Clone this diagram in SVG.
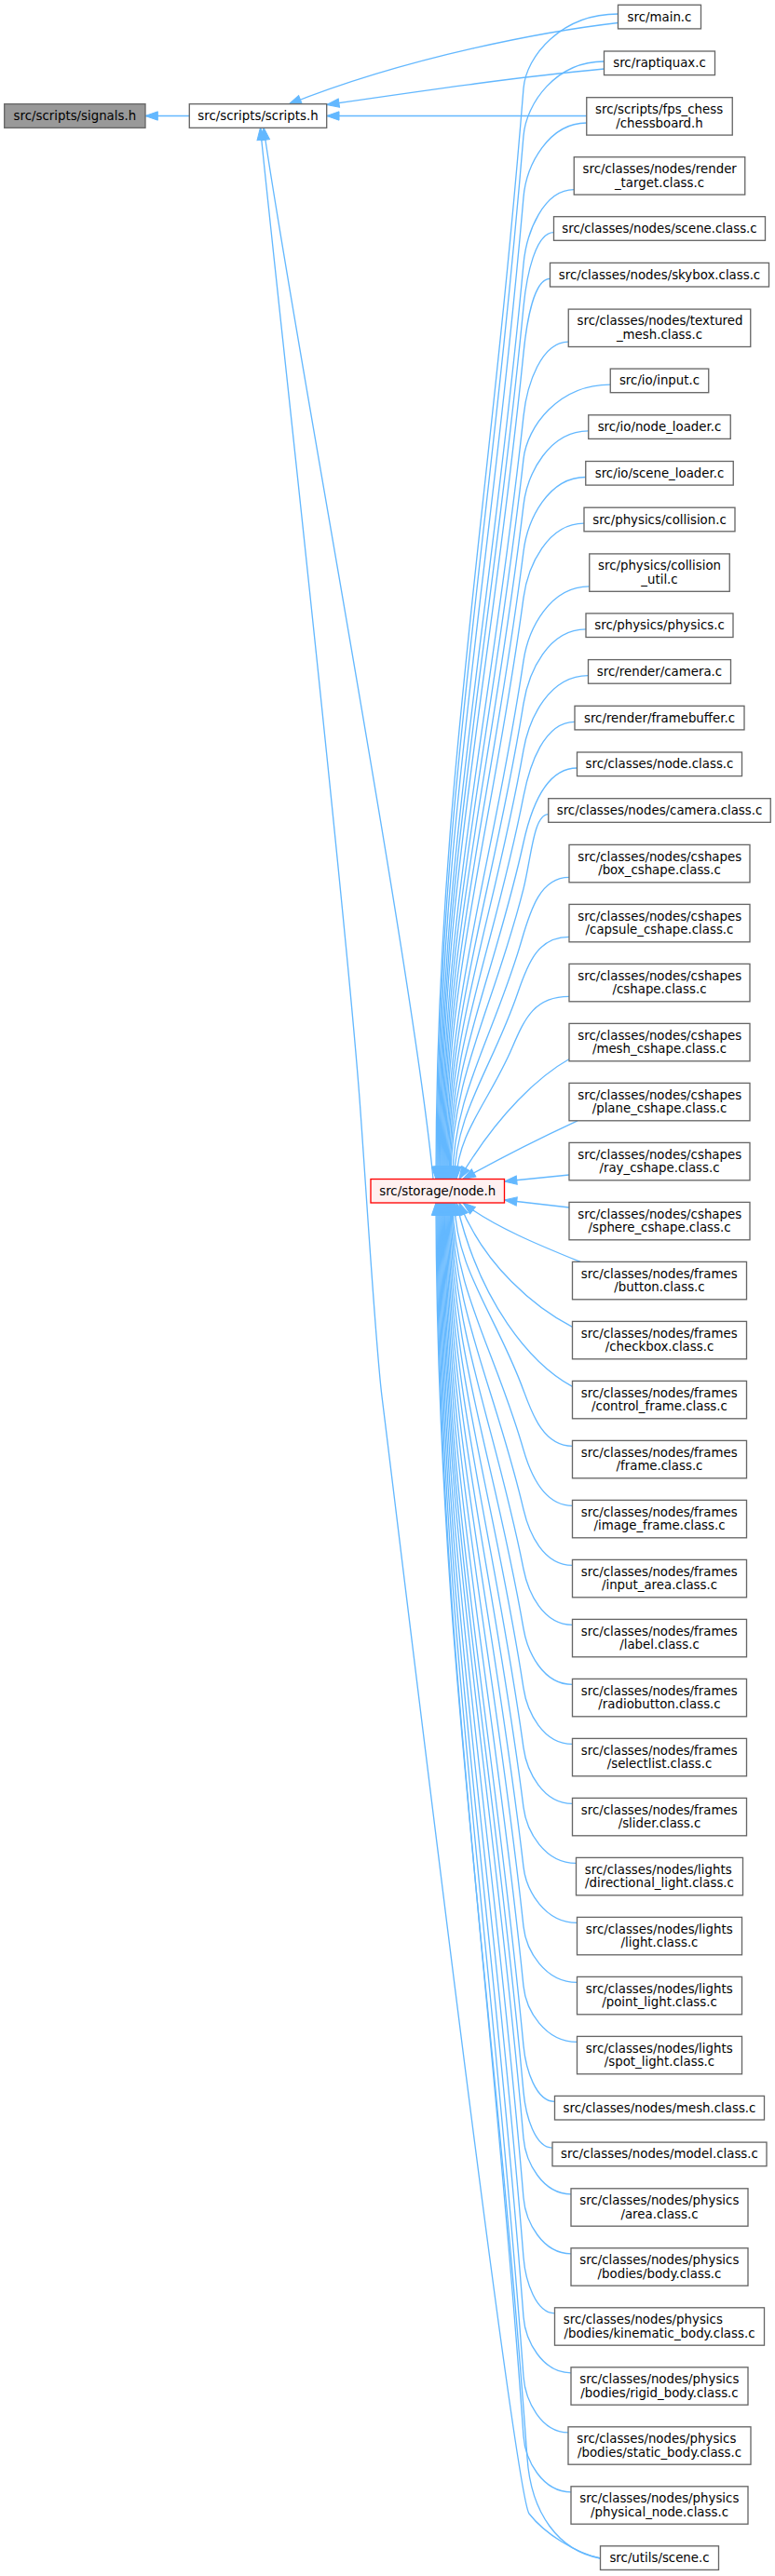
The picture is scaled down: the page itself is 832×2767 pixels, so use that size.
<svg xmlns="http://www.w3.org/2000/svg" width="832" height="2767" viewBox="0 0 832 2767">
<style>
rect{fill:#ffffff;stroke:#666666;stroke-width:1.33}
text{font-family:"DejaVu Sans","Liberation Sans",sans-serif;font-size:13.33px;fill:#000000}
.c{text-anchor:middle}
.s{text-anchor:start}
.e{fill:none;stroke:#63b8ff;stroke-width:1.33;marker-end:url(#ah)}
</style>
<defs>
<marker id="ah" viewBox="0 -5 14 10" refX="13.33" refY="0" markerWidth="14" markerHeight="10" markerUnits="userSpaceOnUse" orient="auto" overflow="visible">
<path d="M0,-4.67 L13.33,0 L0,4.67 Z" fill="#63b8ff" stroke="#63b8ff" stroke-width="1"/>
</marker>
</defs>
<rect x="0" y="0" width="832" height="2767" style="fill:#ffffff;stroke:none"/>
<g id="edges">
<path class="e" d="M203.3,124.5 L156,124.5"/>
<path class="e" d="M663.5,24.5 C590,33 440,60 310,112"/>
<path class="e" d="M648.5,74 C560,82 450,98 350.7,112.5"/>
<path class="e" d="M629.75,124.5 L350.7,124.5"/>
<path class="e" d="M465,1266.5 C445,1050 310,330 283,137"/>
<path class="e" d="M644.5,2748 C618,2742 585,2722 568,2700 C552,2678 430,1660 410,1500 C403,1444 392,1260 386,1180 C368,940 288,230 279.5,137"/>
<path class="e" d="M663.5,15 C602.6,15 564.8,60.1 562,95 C524.4,563.6 468,856.5 468,1266.5"/>
<path class="e" d="M648.5,66 C596.6,66 564.9,111.1 562,146 C524.8,594.2 469,874.3 469,1266.5"/>
<path class="e" d="M629.75,132 C589.1,132 565,177.1 562,212 C525.2,633.8 470,897.4 470,1266.5"/>
<path class="e" d="M616.25,203.7 C583.7,203.7 565.2,248.8 562,283.7 C525.6,676.8 471,922.5 471,1266.5"/>
<path class="e" d="M594.5,249.7 C575,249.7 565.4,294.9 562,329.7 C526,704.4 472,938.6 472,1266.5"/>
<path class="e" d="M590.5,299.4 C573.4,299.4 565.5,344.6 562,379.4 C526.4,734.2 473,956 473,1266.5"/>
<path class="e" d="M610.25,367.1 C581.3,367.1 565.7,412.3 562,447.1 C526.8,774.9 474,979.7 474,1266.5"/>
<path class="e" d="M655.25,413.1 C599.3,413.1 565.9,458.3 562,493.1 C527.2,802.5 475,995.8 475,1266.5"/>
<path class="e" d="M631.75,462.8 C589.9,462.8 566.1,508 562,542.8 C527.6,832.3 476,1013.2 476,1266.5"/>
<path class="e" d="M628.75,512.5 C588.7,512.5 566.4,557.8 562,592.5 C528,862.1 477,1030.6 477,1266.5"/>
<path class="e" d="M627,562.2 C588,562.2 566.7,607.5 562,642.2 C528.4,891.9 478,1048 478,1266.5"/>
<path class="e" d="M632.75,629.9 C590.3,629.9 567.2,675.3 562,709.9 C528.8,932.5 479,1071.7 479,1266.5"/>
<path class="e" d="M629,675.9 C588.8,675.9 567.6,721.3 562,755.9 C529.2,960.1 480,1087.8 480,1266.5"/>
<path class="e" d="M631.5,725.6 C589.8,725.6 568.1,771.1 562,805.6 C529.6,990 481,1105.2 481,1266.5"/>
<path class="e" d="M617,775.3 C584.2,775.3 568.7,821 562,855.3 C530,1019.8 482,1122.6 482,1266.5"/>
<path class="e" d="M619.5,825 C585,825 569.5,870.8 562,905 C530.4,1049.6 483,1140 483,1266.5"/>
<path class="e" d="M588.75,874.7 C572.7,874.7 570.5,920.7 562,954.7 C530.8,1079.4 484,1157.4 484,1266.5"/>
<path class="e" d="M611,942.4 C580.4,942.4 569.7,976.4 560,1010 C530.4,1112.6 486,1176.7 486,1266.5"/>
<path class="e" d="M611,1006.4 C578,1006.4 567.2,1032.9 556,1066 C528.8,1146.2 488,1196.3 488,1266.5"/>
<path class="e" d="M611,1070.4 C574.4,1070.4 563.7,1092.8 550,1125 C526,1181.6 491,1217 490,1266.5"/>
<path class="e" d="M612,1137 C580,1155 535,1195 493,1266.5"/>
<path class="e" d="M620,1203.8 C585,1220 535,1245 497,1266.5"/>
<path class="e" d="M611,1262 L541.5,1269"/>
<path class="e" d="M611,1297 L541.5,1289"/>
<path class="e" d="M623,1355.4 C585,1340 530,1318 497,1292"/>
<path class="e" d="M614.5,1425.4 C575,1405 520,1360 493,1292"/>
<path class="e" d="M614.5,1489.4 C570,1465 515,1400 490,1292"/>
<path class="e" d="M614.5,1553.4 C583,1553.4 571,1517.8 562,1493.4 C532.4,1412.8 489,1362.5 488,1292"/>
<path class="e" d="M614.5,1617.4 C583,1617.4 569.2,1582.4 562,1557.4 C531.6,1451.2 487,1384.9 486,1292"/>
<path class="e" d="M614.5,1681.4 C583,1681.4 567.9,1646.7 562,1621.4 C531.2,1489.6 486,1407.3 485,1292"/>
<path class="e" d="M614.5,1745.4 C583,1745.4 567,1710.9 562,1685.4 C530.8,1528 485,1429.7 484,1292"/>
<path class="e" d="M614.5,1809.4 C583,1809.4 566.4,1775 562,1749.4 C530.4,1566.4 484,1452.1 483,1292"/>
<path class="e" d="M614.5,1873.4 C583,1873.4 565.9,1839.1 562,1813.4 C530,1604.8 483,1474.5 482,1292"/>
<path class="e" d="M614.5,1937.4 C583,1937.4 565.6,1903.2 562,1877.4 C529.6,1643.2 482,1496.9 481,1292"/>
<path class="e" d="M618.5,2001.4 C584.6,2001.4 565.3,1967.2 562,1941.4 C529.2,1681.6 481,1519.3 480,1292"/>
<path class="e" d="M619.5,2065.4 C585,2065.4 565,2031.2 562,2005.4 C528.8,1720 480,1541.7 479,1292"/>
<path class="e" d="M619.5,2129.4 C585,2129.4 564.8,2095.3 562,2069.4 C528.4,1758.4 479,1564.1 478,1292"/>
<path class="e" d="M619.5,2193.4 C585,2193.4 564.6,2159.3 562,2133.4 C528,1796.8 478,1586.5 477,1292"/>
<path class="e" d="M595.5,2257.4 C575.4,2257.4 564.5,2223.3 562,2197.4 C527.6,1835.2 477,1608.9 476,1292"/>
<path class="e" d="M593,2307.1 C574.4,2307.1 564.4,2273 562,2247.1 C527.2,1865 476,1626.3 475,1292"/>
<path class="e" d="M613,2356.8 C582.4,2356.8 564.3,2322.7 562,2296.8 C526.8,1894.9 475,1643.7 474,1292"/>
<path class="e" d="M613,2420.8 C582.4,2420.8 564.2,2386.7 562,2360.8 C526.4,1933.3 474,1666.1 473,1292"/>
<path class="e" d="M595.5,2484.8 C575.4,2484.8 564.1,2450.7 562,2424.8 C526,1971.7 473,1688.5 472,1292"/>
<path class="e" d="M613,2548.8 C582.4,2548.8 564,2514.7 562,2488.8 C525.6,2010.1 472,1710.9 471,1292"/>
<path class="e" d="M610,2612.8 C581,2612.8 563.9,2578.7 562,2552.8 C525.2,2048.5 471,1733.3 470,1292"/>
<path class="e" d="M613,2676.8 C582.4,2676.8 563.8,2642.7 562,2616.8 C524.8,2086.9 470,1755.7 469,1292"/>
<path class="e" d="M644.5,2748 C600,2740 570,2700 566,2640 C526.8,2100.8 469,1763.8 468,1292"/>
</g>
<g id="node-signals"><rect x="4.7" y="111.7" width="151.3" height="25.6" style="fill:#999999"/><text class="c" x="80.35" y="129">src/scripts/signals.h</text></g>
<g id="node-scripts"><rect x="203.3" y="111.7" width="147.4" height="25.6"/><text class="c" x="277" y="129">src/scripts/scripts.h</text></g>
<g id="node-nodeh"><rect x="398" y="1266.5" width="143.5" height="25.5" style="fill:#fff0f0;stroke:#ff0000"/><text class="c" x="469.75" y="1283.8">src/storage/node.h</text></g>
<g id="node-main"><rect x="663.5" y="5.3" width="89" height="25.6"/><text class="c" x="708" y="22.6">src/main.c</text></g>
<g id="node-raptiquax"><rect x="648.5" y="55" width="119" height="25.6"/><text class="c" x="708" y="72.3">src/raptiquax.c</text></g>
<g id="node-chessboard"><rect x="629.75" y="104.7" width="156.5" height="40.4"/><text class="s" x="639" y="122">src/scripts/fps_chess</text><text class="c" x="708" y="136.5">/chessboard.h</text></g>
<g id="node-render-target"><rect x="616.25" y="168.7" width="183.5" height="40.4"/><text class="s" x="625.5" y="186">src/classes/nodes/render</text><text class="c" x="708" y="200.5">_target.class.c</text></g>
<g id="node-scene-class"><rect x="594.5" y="232.7" width="227" height="25.6"/><text class="c" x="708" y="250">src/classes/nodes/scene.class.c</text></g>
<g id="node-skybox"><rect x="590.5" y="282.4" width="235" height="25.6"/><text class="c" x="708" y="299.7">src/classes/nodes/skybox.class.c</text></g>
<g id="node-textured"><rect x="610.25" y="332.1" width="195.5" height="40.4"/><text class="s" x="619.5" y="349.4">src/classes/nodes/textured</text><text class="c" x="708" y="363.9">_mesh.class.c</text></g>
<g id="node-input"><rect x="655.25" y="396.1" width="105.5" height="25.6"/><text class="c" x="708" y="413.4">src/io/input.c</text></g>
<g id="node-node-loader"><rect x="631.75" y="445.8" width="152.5" height="25.6"/><text class="c" x="708" y="463.1">src/io/node_loader.c</text></g>
<g id="node-scene-loader"><rect x="628.75" y="495.5" width="158.5" height="25.6"/><text class="c" x="708" y="512.8">src/io/scene_loader.c</text></g>
<g id="node-collision"><rect x="627" y="545.2" width="162" height="25.6"/><text class="c" x="708" y="562.5">src/physics/collision.c</text></g>
<g id="node-collision-util"><rect x="632.75" y="594.9" width="150.5" height="40.4"/><text class="s" x="642" y="612.2">src/physics/collision</text><text class="c" x="708" y="626.7">_util.c</text></g>
<g id="node-physics"><rect x="629" y="658.9" width="158" height="25.6"/><text class="c" x="708" y="676.2">src/physics/physics.c</text></g>
<g id="node-camera"><rect x="631.5" y="708.6" width="153" height="25.6"/><text class="c" x="708" y="725.9">src/render/camera.c</text></g>
<g id="node-framebuffer"><rect x="617" y="758.3" width="182" height="25.6"/><text class="c" x="708" y="775.6">src/render/framebuffer.c</text></g>
<g id="node-node-class"><rect x="619.5" y="808" width="177" height="25.6"/><text class="c" x="708" y="825.3">src/classes/node.class.c</text></g>
<g id="node-camera-class"><rect x="588.75" y="857.7" width="238.5" height="25.6"/><text class="c" x="708" y="875">src/classes/nodes/camera.class.c</text></g>
<g id="node-box-cshape"><rect x="611" y="907.4" width="194" height="40.4"/><text class="s" x="620.25" y="924.7">src/classes/nodes/cshapes</text><text class="c" x="708" y="939.2">/box_cshape.class.c</text></g>
<g id="node-capsule-cshape"><rect x="611" y="971.4" width="194" height="40.4"/><text class="s" x="620.25" y="988.7">src/classes/nodes/cshapes</text><text class="c" x="708" y="1003.2">/capsule_cshape.class.c</text></g>
<g id="node-cshape"><rect x="611" y="1035.4" width="194" height="40.4"/><text class="s" x="620.25" y="1052.7">src/classes/nodes/cshapes</text><text class="c" x="708" y="1067.2">/cshape.class.c</text></g>
<g id="node-mesh-cshape"><rect x="611" y="1099.4" width="194" height="40.4"/><text class="s" x="620.25" y="1116.7">src/classes/nodes/cshapes</text><text class="c" x="708" y="1131.2">/mesh_cshape.class.c</text></g>
<g id="node-plane-cshape"><rect x="611" y="1163.4" width="194" height="40.4"/><text class="s" x="620.25" y="1180.7">src/classes/nodes/cshapes</text><text class="c" x="708" y="1195.2">/plane_cshape.class.c</text></g>
<g id="node-ray-cshape"><rect x="611" y="1227.4" width="194" height="40.4"/><text class="s" x="620.25" y="1244.7">src/classes/nodes/cshapes</text><text class="c" x="708" y="1259.2">/ray_cshape.class.c</text></g>
<g id="node-sphere-cshape"><rect x="611" y="1291.4" width="194" height="40.4"/><text class="s" x="620.25" y="1308.7">src/classes/nodes/cshapes</text><text class="c" x="708" y="1323.2">/sphere_cshape.class.c</text></g>
<g id="node-button"><rect x="614.5" y="1355.4" width="187" height="40.4"/><text class="s" x="623.75" y="1372.7">src/classes/nodes/frames</text><text class="c" x="708" y="1387.2">/button.class.c</text></g>
<g id="node-checkbox"><rect x="614.5" y="1419.4" width="187" height="40.4"/><text class="s" x="623.75" y="1436.7">src/classes/nodes/frames</text><text class="c" x="708" y="1451.2">/checkbox.class.c</text></g>
<g id="node-control-frame"><rect x="614.5" y="1483.4" width="187" height="40.4"/><text class="s" x="623.75" y="1500.7">src/classes/nodes/frames</text><text class="c" x="708" y="1515.2">/control_frame.class.c</text></g>
<g id="node-frame"><rect x="614.5" y="1547.4" width="187" height="40.4"/><text class="s" x="623.75" y="1564.7">src/classes/nodes/frames</text><text class="c" x="708" y="1579.2">/frame.class.c</text></g>
<g id="node-image-frame"><rect x="614.5" y="1611.4" width="187" height="40.4"/><text class="s" x="623.75" y="1628.7">src/classes/nodes/frames</text><text class="c" x="708" y="1643.2">/image_frame.class.c</text></g>
<g id="node-input-area"><rect x="614.5" y="1675.4" width="187" height="40.4"/><text class="s" x="623.75" y="1692.7">src/classes/nodes/frames</text><text class="c" x="708" y="1707.2">/input_area.class.c</text></g>
<g id="node-label"><rect x="614.5" y="1739.4" width="187" height="40.4"/><text class="s" x="623.75" y="1756.7">src/classes/nodes/frames</text><text class="c" x="708" y="1771.2">/label.class.c</text></g>
<g id="node-radiobutton"><rect x="614.5" y="1803.4" width="187" height="40.4"/><text class="s" x="623.75" y="1820.7">src/classes/nodes/frames</text><text class="c" x="708" y="1835.2">/radiobutton.class.c</text></g>
<g id="node-selectlist"><rect x="614.5" y="1867.4" width="187" height="40.4"/><text class="s" x="623.75" y="1884.7">src/classes/nodes/frames</text><text class="c" x="708" y="1899.2">/selectlist.class.c</text></g>
<g id="node-slider"><rect x="614.5" y="1931.4" width="187" height="40.4"/><text class="s" x="623.75" y="1948.7">src/classes/nodes/frames</text><text class="c" x="708" y="1963.2">/slider.class.c</text></g>
<g id="node-directional-light"><rect x="618.5" y="1995.4" width="179" height="40.4"/><text class="s" x="627.75" y="2012.7">src/classes/nodes/lights</text><text class="c" x="708" y="2027.2">/directional_light.class.c</text></g>
<g id="node-light"><rect x="619.5" y="2059.4" width="177" height="40.4"/><text class="s" x="628.75" y="2076.7">src/classes/nodes/lights</text><text class="c" x="708" y="2091.2">/light.class.c</text></g>
<g id="node-point-light"><rect x="619.5" y="2123.4" width="177" height="40.4"/><text class="s" x="628.75" y="2140.7">src/classes/nodes/lights</text><text class="c" x="708" y="2155.2">/point_light.class.c</text></g>
<g id="node-spot-light"><rect x="619.5" y="2187.4" width="177" height="40.4"/><text class="s" x="628.75" y="2204.7">src/classes/nodes/lights</text><text class="c" x="708" y="2219.2">/spot_light.class.c</text></g>
<g id="node-mesh-class"><rect x="595.5" y="2251.4" width="225" height="25.6"/><text class="c" x="708" y="2268.7">src/classes/nodes/mesh.class.c</text></g>
<g id="node-model-class"><rect x="593" y="2301.1" width="230" height="25.6"/><text class="c" x="708" y="2318.4">src/classes/nodes/model.class.c</text></g>
<g id="node-area"><rect x="613" y="2350.8" width="190" height="40.4"/><text class="s" x="622.25" y="2368.1">src/classes/nodes/physics</text><text class="c" x="708" y="2382.6">/area.class.c</text></g>
<g id="node-body"><rect x="613" y="2414.8" width="190" height="40.4"/><text class="s" x="622.25" y="2432.1">src/classes/nodes/physics</text><text class="c" x="708" y="2446.6">/bodies/body.class.c</text></g>
<g id="node-kinematic-body"><rect x="595.5" y="2478.8" width="225" height="40.4"/><text class="s" x="604.75" y="2496.1">src/classes/nodes/physics</text><text class="c" x="708" y="2510.6">/bodies/kinematic_body.class.c</text></g>
<g id="node-rigid-body"><rect x="613" y="2542.8" width="190" height="40.4"/><text class="s" x="622.25" y="2560.1">src/classes/nodes/physics</text><text class="c" x="708" y="2574.6">/bodies/rigid_body.class.c</text></g>
<g id="node-static-body"><rect x="610" y="2606.8" width="196" height="40.4"/><text class="s" x="619.25" y="2624.1">src/classes/nodes/physics</text><text class="c" x="708" y="2638.6">/bodies/static_body.class.c</text></g>
<g id="node-physical-node"><rect x="613" y="2670.8" width="190" height="40.4"/><text class="s" x="622.25" y="2688.1">src/classes/nodes/physics</text><text class="c" x="708" y="2702.6">/physical_node.class.c</text></g>
<g id="node-utils-scene"><rect x="644.5" y="2734.8" width="127" height="25.6"/><text class="c" x="708" y="2752.1">src/utils/scene.c</text></g>
</svg>
